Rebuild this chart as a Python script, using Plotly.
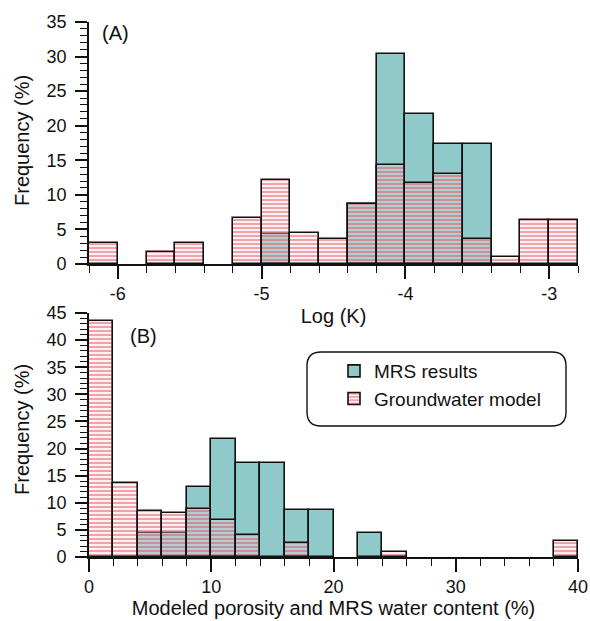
import re
import plotly.graph_objects as go

# ---------------- data ----------------
# Panel A: Log(K) histogram, bins of width 0.2 from -6.2 to -2.8
logk_bin_width = 0.2
logk_centers = [-6.1, -5.9, -5.7, -5.5, -5.3, -5.1, -4.9, -4.7, -4.5, -4.3,
                -4.1, -3.9, -3.7, -3.5, -3.3, -3.1, -2.9]
mrs_logk = [None, None, None, None, None, None, 4.35, None, None, 8.7,
            30.4, 21.7, 17.4, 17.4, None, None, None]
gw_logk = [3.0, None, 1.7, 3.0, None, 6.7, 12.2, 4.5, 3.6, 8.7,
           14.3, 11.7, 13.0, 3.6, 1.0, 6.3, 6.3]
logk_tickvals = [-6, -5, -4, -3]
logk_ticktext = ["-6", "-5", "-4", "-3"]
freq_a_ticks = [0, 5, 10, 15, 20, 25, 30, 35]

# Panel B: porosity / water content histogram, bins of width 2 from 0 to 40
por_bin_width = 2
por_centers = [1, 3, 5, 7, 9, 11, 13, 15, 17, 19, 21, 23, 25, 27, 29, 31, 33, 35, 37, 39]
mrs_por = [None, None, 4.35, 4.35, 13.0, 21.7, 17.4, 17.4, 8.7, 8.7,
           None, 4.35, None, None, None, None, None, None, None, None]
gw_por = [43.5, 13.6, 8.5, 8.2, 8.8, 6.8, 4.0, None, 2.6, None,
          None, None, 1.0, None, None, None, None, None, None, 2.9]
freq_b_ticks = [0, 5, 10, 15, 20, 25, 30, 35, 40, 45]

series_names = ["MRS results", "Groundwater model"]

# ---------------- style ----------------
FONT = "Liberation Sans, Arial, sans-serif"
TEAL = "#8fc9c9"
EDGE = "#111111"
hatch = dict(shape="-", fgcolor="rgba(225,75,90,0.85)",
             bgcolor="rgba(255,210,216,0.35)", size=4, solidity=0.28,
             fillmode="replace")

W, H = 590, 621
ML, MR, MT, MB = 89, 12, 22, 64

fig = go.Figure()

def add_pair(x, mrs, gw, width, xa, ya, show):
    fig.add_trace(go.Bar(x=x, y=mrs, width=width, name=series_names[0],
                         marker=dict(color=TEAL, line=dict(color=EDGE, width=1.6)),
                         xaxis=xa, yaxis=ya, showlegend=show, legendgroup="m"))
    fig.add_trace(go.Bar(x=x, y=gw, width=width, name=series_names[1],
                         marker=dict(color="rgba(255,210,216,0.35)", pattern=hatch,
                                     line=dict(color=EDGE, width=1.6)),
                         xaxis=xa, yaxis=ya, showlegend=show, legendgroup="g"))

add_pair(logk_centers, mrs_logk, gw_logk, logk_bin_width, "x", "y", False)
add_pair(por_centers, mrs_por, gw_por, por_bin_width, "x2", "y2", True)

plot_h = H - MT - MB
plot_w = W - ML - MR
def py(p):  # pixel y -> paper
    return (H - MB - p) / plot_h
def px(p):  # pixel x -> paper
    return (p - ML) / plot_w

common_x = dict(showline=True, linecolor=EDGE, linewidth=1.6, ticks="outside",
                ticklen=13, tickwidth=1.5, tickcolor=EDGE, showgrid=False,
                zeroline=False, tickfont=dict(size=18, color="#111"),
                title_font=dict(size=20, color="#111"), automargin=False)
common_y = dict(showline=True, linecolor=EDGE, linewidth=1.6, ticks="outside",
                ticklen=12, tickwidth=1.5, tickcolor=EDGE, showgrid=False,
                zeroline=False, tickfont=dict(size=18, color="#111"),
                automargin=False, tickmode="array",
                minor=dict(dtick=1, tick0=0, ticks="outside", ticklen=7, tickwidth=1.2,
                           tickcolor=EDGE, showgrid=False))

def ylabels(vals):
    return [f"{v}\u00a0" for v in vals]

fig.update_layout(
    width=W, height=H,
    margin=dict(l=ML, r=MR, t=MT, b=MB, autoexpand=False),
    paper_bgcolor="white", plot_bgcolor="white",
    font=dict(family=FONT, size=18, color="#111"),
    barmode="overlay", bargap=0,
    xaxis=dict(domain=[0, 1], anchor="y", range=[-6.2, -2.8],
               tickmode="array", tickvals=logk_tickvals, ticktext=logk_ticktext,
               title=dict(text="Log (K)", standoff=6),
               minor=dict(dtick=0.2, tick0=-6.2, ticks="outside", ticklen=7, tickwidth=1.2,
                          tickcolor=EDGE, showgrid=False),
               **common_x),
    yaxis=dict(domain=[py(264), 1], anchor="x", range=[0, 35],
               tickvals=freq_a_ticks, ticktext=ylabels(freq_a_ticks), **common_y),
    xaxis2=dict(domain=[0, 1], anchor="y2", range=[0, 40], dtick=10, tick0=0,
                title=dict(text="Modeled porosity and MRS water content (%)", standoff=4),
                minor=dict(dtick=2, ticks="outside", ticklen=7, tickwidth=1.2,
                           tickcolor=EDGE, showgrid=False),
                **common_x),
    yaxis2=dict(domain=[0, py(313)], anchor="x2", range=[0, 45],
                tickvals=freq_b_ticks, ticktext=ylabels(freq_b_ticks), **common_y),
    legend=dict(x=px(334), y=py(352), xanchor="left", yanchor="top",
                bgcolor="rgba(0,0,0,0)", borderwidth=0,
                font=dict(size=19, color="#111"), traceorder="normal"),
    annotations=[
        dict(text="(A)", xref="x domain", yref="y domain", x=px(100), y=0.955,
             xanchor="left", yanchor="middle", showarrow=False,
             font=dict(size=20, color="#111")),
        dict(text="(B)", xref="x2 domain", yref="y2 domain", x=px(128), y=0.906,
             xanchor="left", yanchor="middle", showarrow=False,
             font=dict(size=20, color="#111")),
        dict(text="Frequency (%)", xref="paper", yref="paper", x=px(22), y=py(141),
             textangle=-90, xanchor="center", yanchor="middle", showarrow=False,
             font=dict(size=20, color="#111")),
        dict(text="Frequency (%)", xref="paper", yref="paper", x=px(22), y=py(430),
             textangle=-90, xanchor="center", yanchor="middle", showarrow=False,
             font=dict(size=20, color="#111")),
    ],
)

# rounded legend frame (pixel path converted to paper coords)
x0, x1, y0, y1, r = 307, 566, 352, 426, 14
path = (f"M {x0 + r} {y0} L {x1 - r} {y0} Q {x1} {y0} {x1} {y0 + r} "
        f"L {x1} {y1 - r} Q {x1} {y1} {x1 - r} {y1} L {x0 + r} {y1} "
        f"Q {x0} {y1} {x0} {y1 - r} L {x0} {y0 + r} Q {x0} {y0} {x0 + r} {y0} Z")
out, is_x = [], True
for t in path.split():
    if re.fullmatch(r"[A-Z]", t):
        out.append(t); is_x = True
    else:
        v = float(t)
        out.append(f"{px(v):.5f}" if is_x else f"{py(v):.5f}")
        is_x = not is_x
fig.add_shape(type="path", path=" ".join(out), xref="paper", yref="paper",
              line=dict(color=EDGE, width=1.4), fillcolor="rgba(0,0,0,0)")

fig.write_html("out.html")
